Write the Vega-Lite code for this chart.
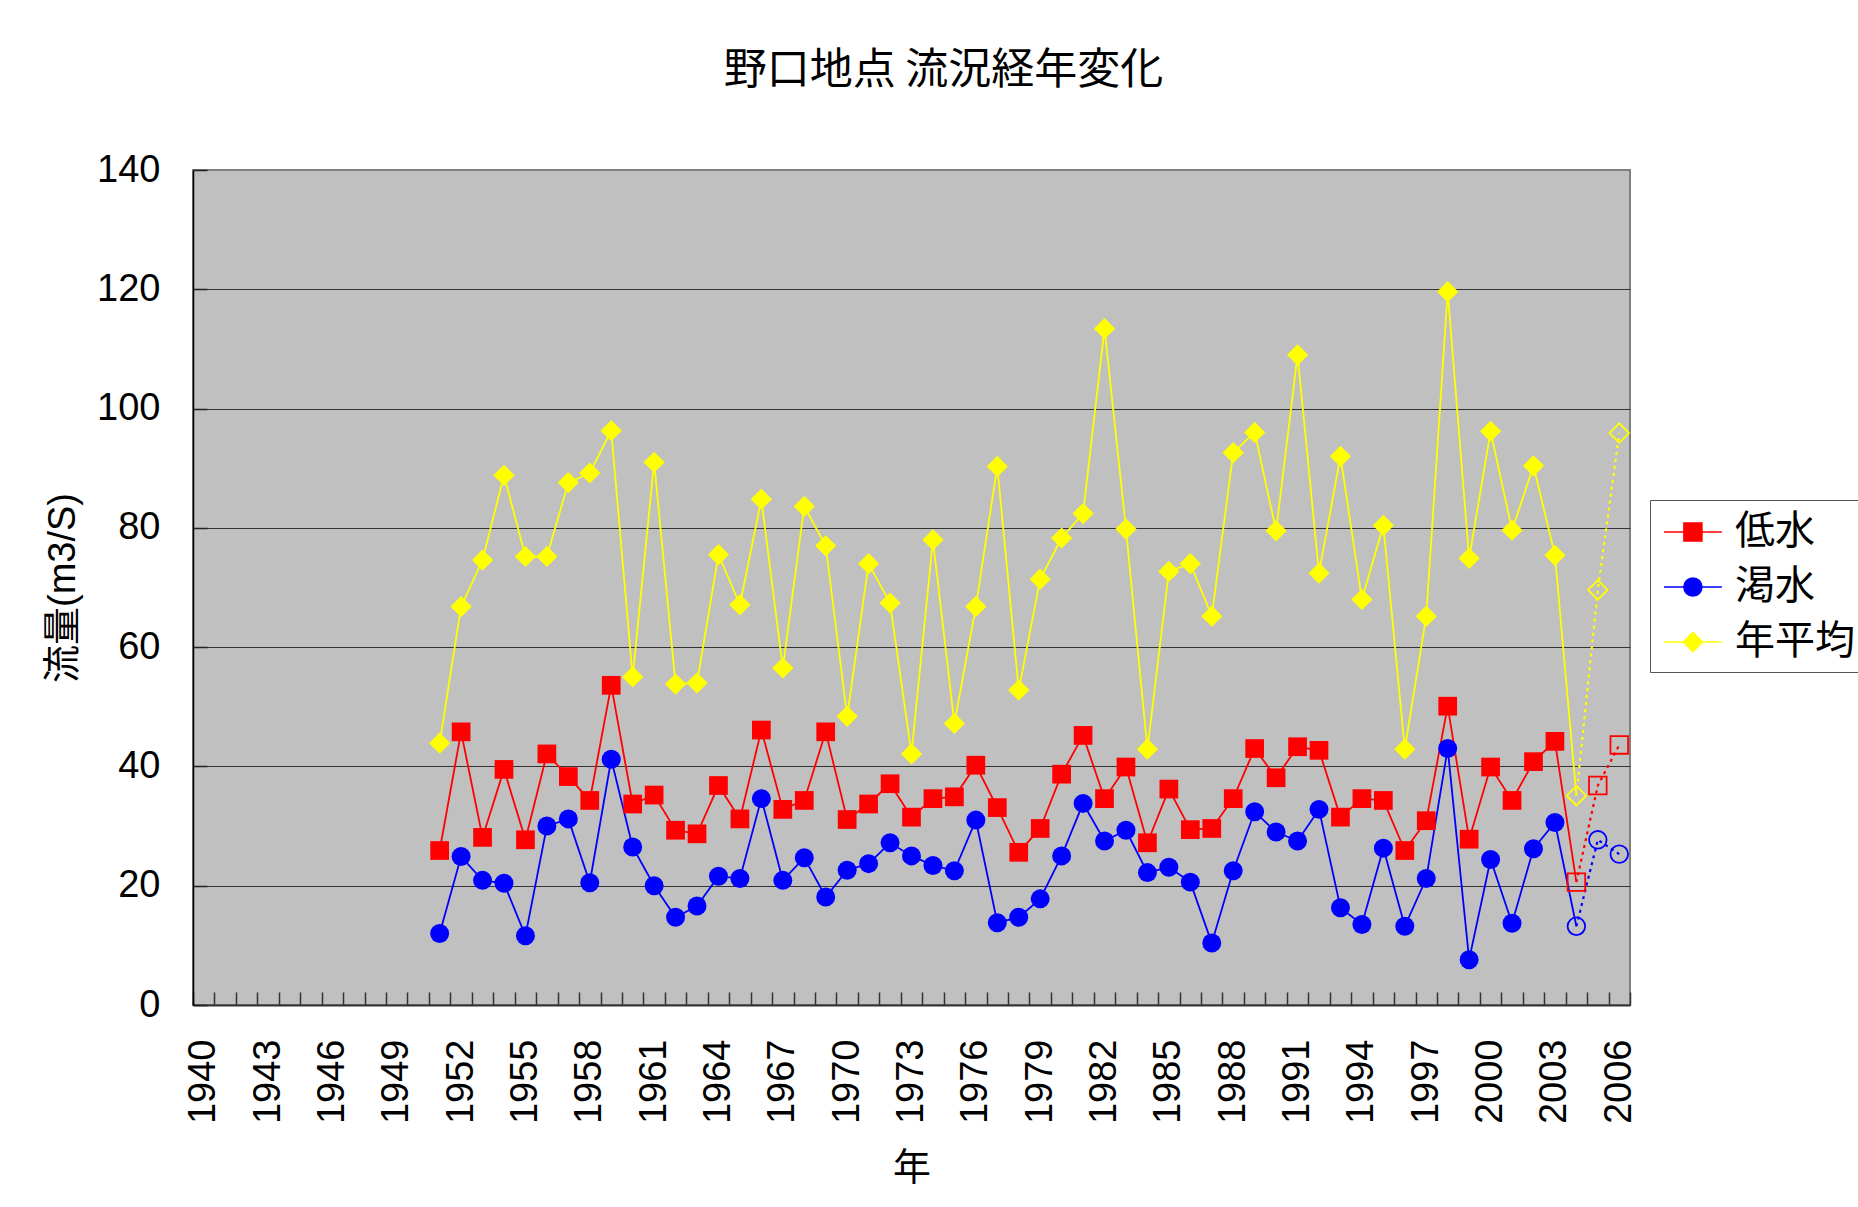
{
  "$schema": "https://vega.github.io/schema/vega-lite/v6.json",
  "width": 1437,
  "height": 835,
  "autosize": {"type": "none"},
  "padding": {"left": 193, "top": 170, "right": 228, "bottom": 202},
  "background": "white",
  "title": {
    "text": "野口地点 流況経年変化",
    "font": "Noto Sans CJK JP",
    "fontSize": 43,
    "fontWeight": "normal",
    "color": "#000000",
    "anchor": "middle",
    "dx": 32,
    "offset": 15,
    "baseline": "bottom"
  },
  "data": {
    "values": [
      {"year": 1951, "series": "低水", "value": 25.9}, {"year": 1952, "series": "低水", "value": 45.8}, {"year": 1953, "series": "低水", "value": 28.1}, {"year": 1954, "series": "低水", "value": 39.5}, {"year": 1955, "series": "低水", "value": 27.7}, {"year": 1956, "series": "低水", "value": 42.1}, {"year": 1957, "series": "低水", "value": 38.3}, {"year": 1958, "series": "低水", "value": 34.3}, {"year": 1959, "series": "低水", "value": 53.6}, {"year": 1960, "series": "低水", "value": 33.7},
      {"year": 1961, "series": "低水", "value": 35.2}, {"year": 1962, "series": "低水", "value": 29.3}, {"year": 1963, "series": "低水", "value": 28.7}, {"year": 1964, "series": "低水", "value": 36.8}, {"year": 1965, "series": "低水", "value": 31.2}, {"year": 1966, "series": "低水", "value": 46.1}, {"year": 1967, "series": "低水", "value": 32.8}, {"year": 1968, "series": "低水", "value": 34.3}, {"year": 1969, "series": "低水", "value": 45.8}, {"year": 1970, "series": "低水", "value": 31.1},
      {"year": 1971, "series": "低水", "value": 33.7}, {"year": 1972, "series": "低水", "value": 37.1}, {"year": 1973, "series": "低水", "value": 31.5}, {"year": 1974, "series": "低水", "value": 34.6}, {"year": 1975, "series": "低水", "value": 34.9}, {"year": 1976, "series": "低水", "value": 40.2}, {"year": 1977, "series": "低水", "value": 33.1}, {"year": 1978, "series": "低水", "value": 25.6}, {"year": 1979, "series": "低水", "value": 29.6}, {"year": 1980, "series": "低水", "value": 38.7},
      {"year": 1981, "series": "低水", "value": 45.2}, {"year": 1982, "series": "低水", "value": 34.6}, {"year": 1983, "series": "低水", "value": 39.9}, {"year": 1984, "series": "低水", "value": 27.2}, {"year": 1985, "series": "低水", "value": 36.2}, {"year": 1986, "series": "低水", "value": 29.4}, {"year": 1987, "series": "低水", "value": 29.6}, {"year": 1988, "series": "低水", "value": 34.6}, {"year": 1989, "series": "低水", "value": 43.0}, {"year": 1990, "series": "低水", "value": 38.1},
      {"year": 1991, "series": "低水", "value": 43.3}, {"year": 1992, "series": "低水", "value": 42.7}, {"year": 1993, "series": "低水", "value": 31.5}, {"year": 1994, "series": "低水", "value": 34.6}, {"year": 1995, "series": "低水", "value": 34.3}, {"year": 1996, "series": "低水", "value": 25.9}, {"year": 1997, "series": "低水", "value": 30.9}, {"year": 1998, "series": "低水", "value": 50.1}, {"year": 1999, "series": "低水", "value": 27.8}, {"year": 2000, "series": "低水", "value": 39.9},
      {"year": 2001, "series": "低水", "value": 34.3}, {"year": 2002, "series": "低水", "value": 40.8}, {"year": 2003, "series": "低水", "value": 44.2}, {"year": 2004, "series": "低水", "value": 20.6}, {"year": 2005, "series": "低水", "value": 36.8}, {"year": 2006, "series": "低水", "value": 43.6},

      {"year": 1951, "series": "渇水", "value": 12.0}, {"year": 1952, "series": "渇水", "value": 24.9}, {"year": 1953, "series": "渇水", "value": 20.9}, {"year": 1954, "series": "渇水", "value": 20.4}, {"year": 1955, "series": "渇水", "value": 11.6}, {"year": 1956, "series": "渇水", "value": 30.0}, {"year": 1957, "series": "渇水", "value": 31.2}, {"year": 1958, "series": "渇水", "value": 20.5}, {"year": 1959, "series": "渇水", "value": 41.2}, {"year": 1960, "series": "渇水", "value": 26.5},
      {"year": 1961, "series": "渇水", "value": 20.0}, {"year": 1962, "series": "渇水", "value": 14.7}, {"year": 1963, "series": "渇水", "value": 16.6}, {"year": 1964, "series": "渇水", "value": 21.6}, {"year": 1965, "series": "渇水", "value": 21.2}, {"year": 1966, "series": "渇水", "value": 34.6}, {"year": 1967, "series": "渇水", "value": 20.9}, {"year": 1968, "series": "渇水", "value": 24.7}, {"year": 1969, "series": "渇水", "value": 18.1}, {"year": 1970, "series": "渇水", "value": 22.6},
      {"year": 1971, "series": "渇水", "value": 23.7}, {"year": 1972, "series": "渇水", "value": 27.2}, {"year": 1973, "series": "渇水", "value": 25.0}, {"year": 1974, "series": "渇水", "value": 23.4}, {"year": 1975, "series": "渇水", "value": 22.5}, {"year": 1976, "series": "渇水", "value": 31.0}, {"year": 1977, "series": "渇水", "value": 13.8}, {"year": 1978, "series": "渇水", "value": 14.7}, {"year": 1979, "series": "渇水", "value": 17.8}, {"year": 1980, "series": "渇水", "value": 25.0},
      {"year": 1981, "series": "渇水", "value": 33.8}, {"year": 1982, "series": "渇水", "value": 27.5}, {"year": 1983, "series": "渇水", "value": 29.3}, {"year": 1984, "series": "渇水", "value": 22.2}, {"year": 1985, "series": "渇水", "value": 23.1}, {"year": 1986, "series": "渇水", "value": 20.6}, {"year": 1987, "series": "渇水", "value": 10.4}, {"year": 1988, "series": "渇水", "value": 22.5}, {"year": 1989, "series": "渇水", "value": 32.4}, {"year": 1990, "series": "渇水", "value": 29.0},
      {"year": 1991, "series": "渇水", "value": 27.5}, {"year": 1992, "series": "渇水", "value": 32.8}, {"year": 1993, "series": "渇水", "value": 16.3}, {"year": 1994, "series": "渇水", "value": 13.5}, {"year": 1995, "series": "渇水", "value": 26.3}, {"year": 1996, "series": "渇水", "value": 13.2}, {"year": 1997, "series": "渇水", "value": 21.2}, {"year": 1998, "series": "渇水", "value": 43.0}, {"year": 1999, "series": "渇水", "value": 7.6}, {"year": 2000, "series": "渇水", "value": 24.4},
      {"year": 2001, "series": "渇水", "value": 13.7}, {"year": 2002, "series": "渇水", "value": 26.2}, {"year": 2003, "series": "渇水", "value": 30.6}, {"year": 2004, "series": "渇水", "value": 13.2}, {"year": 2005, "series": "渇水", "value": 27.7}, {"year": 2006, "series": "渇水", "value": 25.3},

      {"year": 1951, "series": "年平均", "value": 43.9}, {"year": 1952, "series": "年平均", "value": 66.8}, {"year": 1953, "series": "年平均", "value": 74.6}, {"year": 1954, "series": "年平均", "value": 88.8}, {"year": 1955, "series": "年平均", "value": 75.2}, {"year": 1956, "series": "年平均", "value": 75.2}, {"year": 1957, "series": "年平均", "value": 87.6}, {"year": 1958, "series": "年平均", "value": 89.2}, {"year": 1959, "series": "年平均", "value": 96.3}, {"year": 1960, "series": "年平均", "value": 55.0},
      {"year": 1961, "series": "年平均", "value": 91.0}, {"year": 1962, "series": "年平均", "value": 53.8}, {"year": 1963, "series": "年平均", "value": 54.0}, {"year": 1964, "series": "年平均", "value": 75.5}, {"year": 1965, "series": "年平均", "value": 67.1}, {"year": 1966, "series": "年平均", "value": 84.8}, {"year": 1967, "series": "年平均", "value": 56.5}, {"year": 1968, "series": "年平均", "value": 83.6}, {"year": 1969, "series": "年平均", "value": 77.0}, {"year": 1970, "series": "年平均", "value": 48.4},
      {"year": 1971, "series": "年平均", "value": 74.0}, {"year": 1972, "series": "年平均", "value": 67.4}, {"year": 1973, "series": "年平均", "value": 42.1}, {"year": 1974, "series": "年平均", "value": 78.0}, {"year": 1975, "series": "年平均", "value": 47.2}, {"year": 1976, "series": "年平均", "value": 66.8}, {"year": 1977, "series": "年平均", "value": 90.3}, {"year": 1978, "series": "年平均", "value": 52.8}, {"year": 1979, "series": "年平均", "value": 71.4}, {"year": 1980, "series": "年平均", "value": 78.3},
      {"year": 1981, "series": "年平均", "value": 82.4}, {"year": 1982, "series": "年平均", "value": 113.4}, {"year": 1983, "series": "年平均", "value": 79.8}, {"year": 1984, "series": "年平均", "value": 42.9}, {"year": 1985, "series": "年平均", "value": 72.7}, {"year": 1986, "series": "年平均", "value": 74.0}, {"year": 1987, "series": "年平均", "value": 65.2}, {"year": 1988, "series": "年平均", "value": 92.6}, {"year": 1989, "series": "年平均", "value": 96.0}, {"year": 1990, "series": "年平均", "value": 79.5},
      {"year": 1991, "series": "年平均", "value": 109.0}, {"year": 1992, "series": "年平均", "value": 72.4}, {"year": 1993, "series": "年平均", "value": 92.0}, {"year": 1994, "series": "年平均", "value": 68.0}, {"year": 1995, "series": "年平均", "value": 80.4}, {"year": 1996, "series": "年平均", "value": 42.9}, {"year": 1997, "series": "年平均", "value": 65.2}, {"year": 1998, "series": "年平均", "value": 119.6}, {"year": 1999, "series": "年平均", "value": 74.9}, {"year": 2000, "series": "年平均", "value": 96.2},
      {"year": 2001, "series": "年平均", "value": 79.6}, {"year": 2002, "series": "年平均", "value": 90.4}, {"year": 2003, "series": "年平均", "value": 75.4}, {"year": 2004, "series": "年平均", "value": 35.1}, {"year": 2005, "series": "年平均", "value": 69.6}, {"year": 2006, "series": "年平均", "value": 95.9}
    ]
  },
  "encoding": {
    "x": {
      "field": "year",
      "type": "ordinal",
      "bandPosition": 0.5,
      "scale": {
        "type": "band",
        "paddingInner": 0,
        "paddingOuter": 0,
        "domain": [1940,1941,1942,1943,1944,1945,1946,1947,1948,1949,1950,1951,1952,1953,1954,1955,1956,1957,1958,1959,1960,1961,1962,1963,1964,1965,1966,1967,1968,1969,1970,1971,1972,1973,1974,1975,1976,1977,1978,1979,1980,1981,1982,1983,1984,1985,1986,1987,1988,1989,1990,1991,1992,1993,1994,1995,1996,1997,1998,1999,2000,2001,2002,2003,2004,2005,2006]
      },
      "axis": {
        "title": "年",
        "titleFont": "Noto Sans CJK JP",
        "titleFontSize": 38,
        "titleFontWeight": "normal",
        "titleColor": "#000000",
        "titlePadding": 26,
        "labelExpr": "datum.value % 3 == 2 ? datum.label : ''",
        "labelAngle": -90,
        "labelFont": "Liberation Sans",
        "labelFontSize": 38,
        "labelColor": "#000000",
        "labelPadding": 47,
        "labelOverlap": false,
        "tickBand": "extent",
        "tickSize": -13,
        "tickColor": "#333333",
        "tickWidth": 1.5,
        "domainColor": "#333333",
        "domainWidth": 2,
        "grid": false
      }
    },
    "y": {
      "field": "value",
      "type": "quantitative",
      "scale": {"domain": [0, 140], "nice": false},
      "axis": {
        "title": "流量(m3/S)",
        "titleFont": "Liberation Sans, Noto Sans CJK JP",
        "titleFontSize": 38,
        "titleFontWeight": "normal",
        "titleColor": "#000000",
        "titlePadding": 14,
        "values": [0, 20, 40, 60, 80, 100, 120, 140],
        "labelFont": "Liberation Sans",
        "labelFontSize": 38,
        "labelColor": "#000000",
        "labelPadding": 47,
        "tickSize": -14,
        "tickColor": "#222222",
        "tickWidth": 1.5,
        "domainColor": "#000000",
        "domainWidth": 1.5,
        "grid": true,
        "gridColor": {"condition": {"test": "datum.value == 140 || datum.value == 0", "value": "#808080"}, "value": "#333333"},
        "gridWidth": 1
      }
    },
    "color": {
      "field": "series",
      "type": "nominal",
      "scale": {"domain": ["低水", "渇水", "年平均"], "range": ["#FF0000", "#0000FF", "#FFFF00"]},
      "legend": {
        "orient": "none",
        "legendX": 1457,
        "legendY": 330,
        "title": null,
        "fillColor": "#FFFFFF",
        "strokeColor": "#555555",
        "padding": 10,
        "rowPadding": 13,
        "symbolSize": 1764,
        "labelOffset": 31,
        "labelFont": "Noto Sans CJK JP",
        "labelFontSize": 40,
        "labelColor": "#000000",
        "labelLimit": 400,
        "symbolStrokeWidth": 1.5,
        "encode": {
          "symbols": {
            "update": {
              "shape": {"signal": "datum.value === '低水' ? 'M-0.86,0H1.9M0.09,-0.43H0.95V0.43H0.09Z' : datum.value === '渇水' ? 'M-0.86,0H1.9M0.09,0A0.43,0.43 0 1,0 0.95,0A0.43,0.43 0 1,0 0.09,0Z' : 'M-0.86,0H1.9M0.06,0L0.52,-0.46L0.98,0L0.52,0.46Z'"},
              "fill": {"signal": "datum.value === '低水' ? '#FF0000' : datum.value === '渇水' ? '#0000FF' : '#FFFF00'"},
              "stroke": {"signal": "datum.value === '低水' ? '#FF0000' : datum.value === '渇水' ? '#0000FF' : '#FFFF00'"},
              "strokeWidth": {"value": 1.5},
              "opacity": {"value": 1},
              "fillOpacity": {"value": 1},
              "strokeOpacity": {"value": 1}
            }
          }
        }
      }
    }
  },
  "layer": [
    {
      "transform": [{"filter": "datum.year <= 2004"}],
      "mark": {"type": "line", "strokeWidth": 1.8}
    },
    {
      "transform": [{"filter": "datum.year >= 2004"}],
      "mark": {"type": "line", "strokeWidth": 2.2, "strokeDash": [3, 4]}
    },
    {
      "transform": [{"filter": "datum.year <= 2003 && datum.series == '低水'"}],
      "mark": {"type": "point", "shape": "square", "filled": true, "size": 350, "opacity": 1}
    },
    {
      "transform": [{"filter": "datum.year <= 2003 && datum.series == '渇水'"}],
      "mark": {"type": "point", "shape": "circle", "filled": true, "size": 360, "opacity": 1}
    },
    {
      "transform": [{"filter": "datum.year <= 2003 && datum.series == '年平均'"}],
      "mark": {"type": "point", "shape": "diamond", "filled": true, "size": 450, "opacity": 1}
    },
    {
      "transform": [{"filter": "datum.year >= 2004 && datum.series == '低水'"}],
      "mark": {"type": "point", "shape": "square", "filled": false, "size": 310, "strokeWidth": 1.8, "opacity": 1}
    },
    {
      "transform": [{"filter": "datum.year >= 2004 && datum.series == '渇水'"}],
      "mark": {"type": "point", "shape": "circle", "filled": false, "size": 310, "strokeWidth": 1.8, "opacity": 1}
    },
    {
      "transform": [{"filter": "datum.year >= 2004 && datum.series == '年平均'"}],
      "mark": {"type": "point", "shape": "diamond", "filled": false, "size": 380, "strokeWidth": 1.8, "opacity": 1}
    }
  ],
  "config": {
    "view": {"fill": "#C0C0C0", "stroke": "#808080", "strokeWidth": 2}
  }
}
